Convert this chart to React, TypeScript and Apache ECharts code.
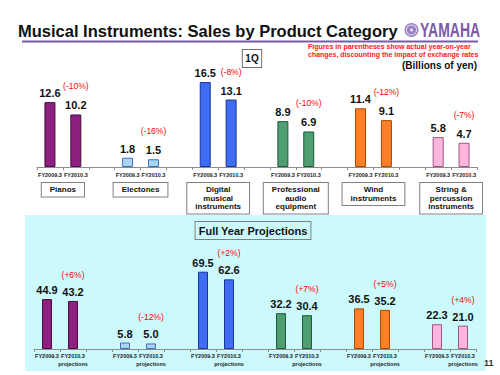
import React, { useEffect, useRef } from "react";
import * as echarts from "echarts";

// ---- data ----
const boxLabels = [
  "Pianos",
  "Electones",
  "Digital\nmusical\ninstruments",
  "Professional\naudio\nequipment",
  "Wind\ninstruments",
  "String &\npercussion\ninstruments",
];
const q1Prev = [12.6, 1.8, 16.5, 8.9, 11.4, 5.8];
const q1Curr = [10.2, 1.5, 13.1, 6.9, 9.1, 4.7];
const q1Change = ["(-10%)", "(-16%)", "(-8%)", "(-10%)", "(-12%)", "(-7%)"];
const fyPrev = [44.9, 5.8, 69.5, 32.2, 36.5, 22.3];
const fyCurr = [43.2, 5.0, 62.6, 30.4, 35.2, 21.0];
const fyChange = ["(+6%)", "(-12%)", "(+2%)", "(+7%)", "(+5%)", "(+4%)"];
const topTickLabels = ["FY2009.3", "FY2010.3"];
const bottomTickLabels = ["FY2009.3", "FY2010.3\nprojections"];

// ---- styles ----
const fills = ["#8c1f80", "#a9d5f5", "#3f6cf2", "#4f9e72", "#ff7f27", "#ffb5de"];
const borders = ["#4a0c43", "#3f6fb8", "#1a3596", "#1f5a3a", "#a64800", "#a0557e"];
const FONT = '"Liberation Sans", Arial, Helvetica, sans-serif';
const RED = "#ff0000";

const TOP = { left: 37, top: 64, width: 440, height: 103, max: 20 };
const BOT = { left: 34, top: 260, width: 442, height: 89, max: 80 };

function buildCats(labels: string[]) {
  const out: string[] = [];
  for (let i = 0; i < 6; i++) {
    out.push(labels[0], labels[1]);
    if (i < 5) out.push("");
  }
  return out;
}

function buildData(prev: number[], curr: number[]) {
  const out: any[] = [];
  for (let i = 0; i < 6; i++) {
    const st = { color: fills[i], borderColor: borders[i], borderWidth: 1 };
    out.push({ value: prev[i], itemStyle: st });
    out.push({ value: curr[i], itemStyle: st });
    if (i < 5) out.push("-");
  }
  return out;
}

function makeFormatter(prev: number[], curr: number[], chg: string[]) {
  return (p: any) => {
    const i = Math.floor(p.dataIndex / 3);
    const j = p.dataIndex % 3;
    if (j === 0) return `{v|${prev[i].toFixed(1)}}`;
    return `{r|${chg[i]}}\n{v|${curr[i].toFixed(1)}}`;
  };
}

export default function App() {
  const ref = useRef<HTMLDivElement>(null);
  useEffect(() => {
    if (!ref.current) return;
    const chart = echarts.init(ref.current, null, { renderer: "svg" });
    const topCatW = TOP.width / 17;

    const boxEls: any[] = boxLabels.map((t, i) => ({
      type: "text",
      x: TOP.left + topCatW * (3 * i + 1),
      y: 183,
      z: 20,
      style: {
        text: t,
        align: "center",
        verticalAlign: "top",
        font: `bold 8px ${FONT}`,
        lineHeight: 8.5,
        fill: "#111",
        backgroundColor: "#fff",
        borderColor: "#808080",
        borderWidth: 1,
        padding: [2.5, 8, 2.5, 8],
      },
    }));

    const axisCommon = (gridIndex: number, labels: string[], margin: number) => ({
      type: "category",
      gridIndex,
      data: buildCats(labels),
      boundaryGap: true,
      axisLine: { show: true, lineStyle: { color: "#8c8c8c", width: 1 } },
      axisTick: { show: true, length: 3, interval: 0, lineStyle: { color: "#8c8c8c" } },
      axisLabel: {
        interval: 0,
        margin,
        fontSize: 5.5,
        fontWeight: "bold",
        color: "#222",
        fontFamily: FONT,
        lineHeight: 8,
      },
      splitLine: { show: false },
    });

    const labelCommon = (rLH: number, fmt: any) => ({
      show: true,
      position: "top",
      distance: 3,
      formatter: fmt,
      rich: {
        v: { fontSize: 11, fontWeight: "bold", color: "#111", fontFamily: FONT, lineHeight: 12 },
        r: { fontSize: 8.5, color: RED, fontFamily: FONT, lineHeight: rLH },
      },
    });

    chart.setOption({
      animation: false,
      backgroundColor: "#ffffff",
      grid: [
        { left: TOP.left, top: TOP.top, width: TOP.width, height: TOP.height, containLabel: false, outerBoundsMode: "none" },
        { left: BOT.left, top: BOT.top, width: BOT.width, height: BOT.height, containLabel: false, outerBoundsMode: "none" },
      ],
      xAxis: [axisCommon(0, topTickLabels, 4), axisCommon(1, bottomTickLabels, 3)],
      yAxis: [
        { type: "value", gridIndex: 0, min: 0, max: TOP.max, show: false },
        { type: "value", gridIndex: 1, min: 0, max: BOT.max, show: false },
      ],
      series: [
        {
          type: "bar",
          xAxisIndex: 0,
          yAxisIndex: 0,
          barWidth: 11,
          data: buildData(q1Prev, q1Curr),
          label: labelCommon(26, makeFormatter(q1Prev, q1Curr, q1Change)),
        },
        {
          type: "bar",
          xAxisIndex: 1,
          yAxisIndex: 1,
          barWidth: 10,
          data: buildData(fyPrev, fyCurr),
          label: labelCommon(22, makeFormatter(fyPrev, fyCurr, fyChange)),
        },
      ],
      graphic: {
        elements: [
          { type: "rect", z: -10, shape: { x: 25, y: 215, width: 461, height: 156 }, style: { fill: "#ccf9fc" } },
          {
            type: "text",
            x: 18,
            y: 30.5,
            style: { text: "Musical Instruments: Sales by Product Category", font: `bold 16.5px ${FONT}`, fill: "#111", verticalAlign: "middle" },
          },
          { type: "circle", shape: { cx: 411.5, cy: 30, r: 7 }, style: { fill: "#9a82c6" } },
          { type: "ring", shape: { cx: 411.5, cy: 30, r: 5.5, r0: 4.6 }, style: { fill: "#e6dcf3" } },
          { type: "circle", shape: { cx: 411.5, cy: 30, r: 1.6 }, style: { fill: "#e6dcf3" } },
          {
            type: "text",
            x: 420,
            y: 30,
            scaleX: 0.7,
            style: { text: "YAMAHA", font: `bold 20px ${FONT}`, fill: "#7d5aa6", verticalAlign: "middle" },
          },
          { type: "line", shape: { x1: 22, y1: 41.5, x2: 478, y2: 41.5 }, style: { stroke: "#7d5aa6", lineWidth: 2 } },
          {
            type: "text",
            x: 308,
            y: 42.5,
            style: {
              text: "Figures in parentheses show actual year-on-year\nchanges, discounting the impact of exchange rates",
              font: `bold 7px ${FONT}`,
              lineHeight: 8,
              fill: "#ff2020",
              verticalAlign: "top",
            },
          },
          {
            type: "text",
            x: 477,
            y: 65,
            style: { text: "(Billions of yen)", font: `bold 10px ${FONT}`, fill: "#111", align: "right", verticalAlign: "middle" },
          },
          {
            type: "text",
            x: 252,
            y: 50,
            style: {
              text: "1Q",
              font: `bold 10px ${FONT}`,
              lineHeight: 11,
              fill: "#111",
              align: "center",
              verticalAlign: "top",
              backgroundColor: "#fff",
              borderColor: "#707070",
              borderWidth: 1,
              padding: [3, 2.5, 3, 2.5],
            },
          },
          {
            type: "text",
            x: 253,
            y: 222,
            style: {
              text: "Full Year Projections",
              font: `bold 11px ${FONT}`,
              lineHeight: 11,
              fill: "#111",
              align: "center",
              verticalAlign: "top",
              backgroundColor: "#ccf9fc",
              borderColor: "#808080",
              borderWidth: 1,
              padding: [3, 3, 3, 3],
            },
          },
          {
            type: "text",
            x: 484,
            y: 362.5,
            style: { text: "11", font: `bold 9px ${FONT}`, fill: "#333", verticalAlign: "middle" },
          },
          ...boxEls,
        ],
      },
    });
    return () => chart.dispose();
  }, []);
  return (
    <div
      ref={ref}
      style={{ position: "fixed", left: 0, top: 0, width: 500, height: 375, background: "#fff" }}
    />
  );
}
